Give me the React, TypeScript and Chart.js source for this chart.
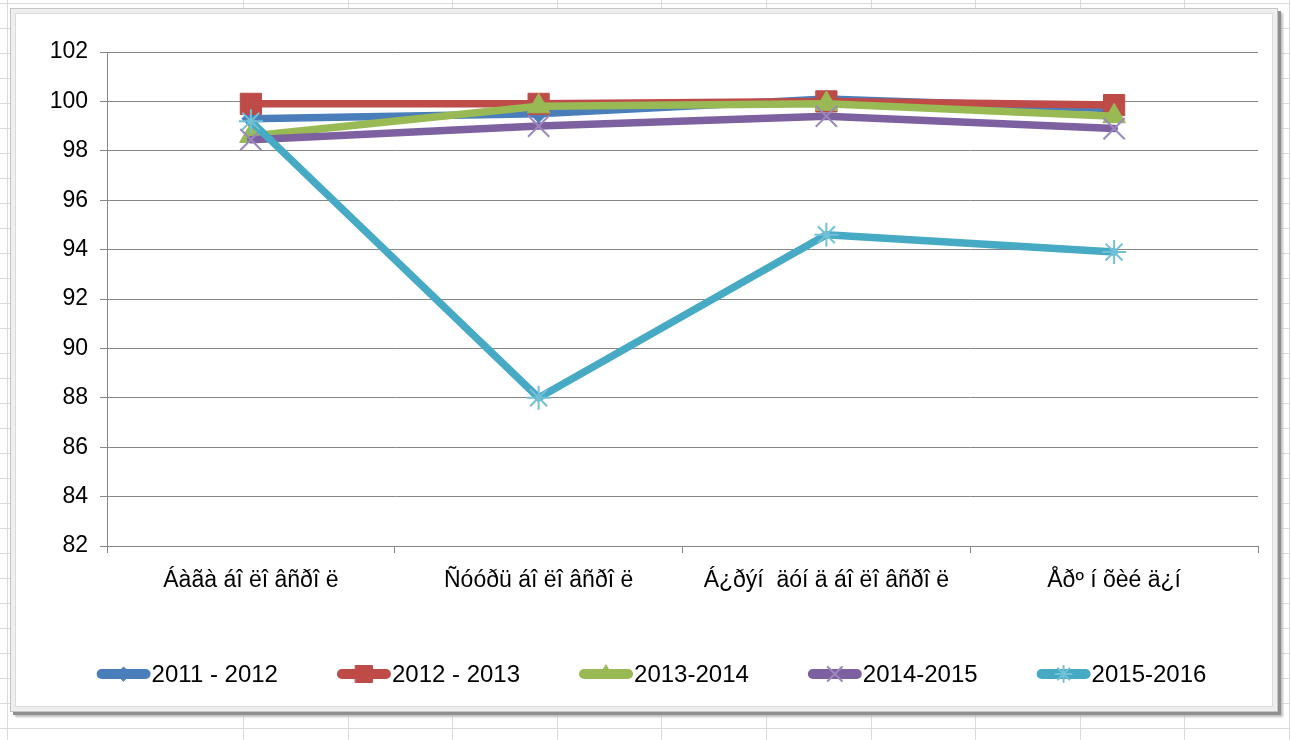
import React, { useEffect, useRef } from "react";
import { Chart, registerables } from "chart.js";
import { drawPoint } from "chart.js/helpers";

Chart.register(...registerables);

const categories = [
  "Áàãà áî ëî âñðî ë",
  "Ñóóðü áî ëî âñðî ë",
  "Á¿ðýí  äóí ä áî ëî âñðî ë",
  "Åðº í õèé ä¿í",
];
const seriesNames = ["2011 - 2012", "2012 - 2013", "2013-2014", "2014-2015", "2015-2016"];
const values2011 = [99.3, 99.5, 100.1, 99.7];
const values2012 = [99.9, 99.9, 100.0, 99.85];
const values2013 = [98.6, 99.8, 99.9, 99.4];
const values2014 = [98.45, 99.0, 99.4, 98.9];
const values2015 = [99.2, 88.0, 94.6, 93.9];
const yMin = 82;
const yMax = 102;
const yStep = 2;

const FONT = '"Liberation Sans", Arial, sans-serif';

const styles = [
  { color: "#4A7EBB", marker: "rectRot", radius: 9, legendRadius: 7, fill: "#4A7EBB", stroke: "#4A7EBB", bw: 1 },
  { color: "#BE4B48", marker: "rect", radius: 15, legendRadius: 12, fill: "#BE4B48", stroke: "#BE4B48", bw: 1 },
  { color: "#98B954", marker: "triangle", radius: 13, legendRadius: 9, fill: "#98B954", stroke: "#98B954", bw: 1 },
  { color: "#7D60A0", marker: "crossRot", radius: 15, legendRadius: 10, fill: "#9b87bd", stroke: "#9b87bd", bw: 2 },
  { color: "#46AAC5", marker: "star", radius: 12, legendRadius: 8, fill: "#72c0d6", stroke: "#72c0d6", bw: 2 },
];

const seriesValues = [values2011, values2012, values2013, values2014, values2015];

const legendPlugin = {
  id: "excelLegend",
  afterDraw(chart: any) {
    const ctx = chart.ctx as CanvasRenderingContext2D;
    ctx.save();
    ctx.font = `24px ${FONT}`;
    const sampleW = 54;
    const gap = 60;
    const labels = chart.data.datasets.map((d: any) => d.label as string);
    const widths = labels.map((l: string) => ctx.measureText(l).width);
    const total =
      widths.reduce((a: number, b: number) => a + b, 0) + labels.length * sampleW + (labels.length - 1) * gap;
    let x = chart.width / 2 + 6 - total / 2;
    const y = chart.height - 34;
    labels.forEach((label: string, i: number) => {
      const st = styles[i];
      ctx.lineCap = "round";
      ctx.lineWidth = 10;
      ctx.strokeStyle = st.color;
      ctx.beginPath();
      ctx.moveTo(x + 5, y);
      ctx.lineTo(x + sampleW - 5, y);
      ctx.stroke();
      ctx.fillStyle = st.fill;
      ctx.strokeStyle = st.stroke;
      ctx.lineWidth = st.bw;
      drawPoint(ctx, { pointStyle: st.marker, radius: st.legendRadius, rotation: 0, borderWidth: st.bw } as any, x + sampleW / 2, y);
      ctx.fillStyle = "#000";
      ctx.textAlign = "left";
      ctx.textBaseline = "middle";
      ctx.fillText(label, x + sampleW + 1, y + 1);
      x += sampleW + widths[i] + gap;
    });
    ctx.restore();
  },
};

const vLines = [7, 243, 348, 452, 557, 661, 766, 871, 975, 1080, 1184, 1289];
const hLines = Array.from({ length: 30 }, (_, i) => 3 + i * 25);

export default function App() {
  const canvasRef = useRef<HTMLCanvasElement | null>(null);

  useEffect(() => {
    document.body.style.margin = "0";
    const canvas = canvasRef.current;
    if (!canvas) return;
    const chart = new Chart(canvas, {
      type: "line",
      data: {
        labels: categories,
        datasets: seriesNames.map((name, i) => ({
          label: name,
          data: seriesValues[i],
          borderColor: styles[i].color,
          backgroundColor: styles[i].fill,
          borderWidth: 7.5,
          borderCapStyle: "round" as const,
          borderJoinStyle: "round" as const,
          pointStyle: styles[i].marker as any,
          pointRadius: styles[i].radius,
          pointHoverRadius: styles[i].radius,
          pointBackgroundColor: styles[i].fill,
          pointBorderColor: styles[i].stroke,
          pointBorderWidth: styles[i].bw,
          tension: 0,
          fill: false,
          order: seriesNames.length - i,
        })),
      },
      options: {
        animation: false,
        responsive: false,
        maintainAspectRatio: false,
        devicePixelRatio: 1,
        layout: { padding: { left: 0, right: 18, top: 40, bottom: 62 } },
        plugins: {
          legend: { display: false },
          tooltip: { enabled: false },
        },
        scales: {
          x: {
            type: "category",
            offset: true,
            afterFit: (scale: any) => {
              scale.height = 100;
            },
            grid: {
              display: true,
              offset: true,
              drawOnChartArea: false,
              drawTicks: true,
              tickLength: 7,
              color: "#868686",
              lineWidth: 1,
            },
            border: { display: true, color: "#868686", width: 1 },
            ticks: {
              color: "#000",
              font: { family: FONT, size: 23 },
              padding: 14,
              maxRotation: 0,
              autoSkip: false,
            },
          },
          y: {
            min: yMin,
            max: yMax,
            afterFit: (scale: any) => {
              scale.width = 93;
            },
            grid: {
              color: "#868686",
              lineWidth: 1,
              drawTicks: true,
              tickLength: 7,
            },
            border: { display: true, color: "#868686", width: 1 },
            ticks: {
              stepSize: yStep,
              color: "#000",
              font: { family: FONT, size: 23 },
              padding: 12,
            },
          },
        },
      },
      plugins: [legendPlugin],
    });
    return () => chart.destroy();
  }, []);

  return (
    <div
      style={{
        position: "fixed",
        left: 0,
        top: 0,
        width: 1290,
        height: 740,
        background: "#fff",
        overflow: "hidden",
      }}
    >
      {vLines.map((x) => (
        <div
          key={"v" + x}
          style={{ position: "absolute", left: x, top: 0, width: 1, height: 740, background: "#dadada" }}
        />
      ))}
      {hLines.map((y) => (
        <div
          key={"h" + y}
          style={{ position: "absolute", left: 0, top: y, width: 1290, height: 1, background: "#dadada" }}
        />
      ))}
      <div
        style={{
          position: "absolute",
          left: 10,
          top: 8,
          width: 1266,
          height: 702,
          background: "#fff",
          border: "1px solid #c4c4c4",
          boxShadow: "inset 0 0 0 4px #efefef, inset 0 0 0 5px #dcdcdc, 3px 3px 0 #8f8f8f, 5px 5px 2px #bdbdbd",
        }}
      />
      <canvas
        ref={canvasRef}
        width={1262}
        height={696}
        style={{ position: "absolute", left: 14, top: 12, width: 1262, height: 696 }}
      />
    </div>
  );
}
